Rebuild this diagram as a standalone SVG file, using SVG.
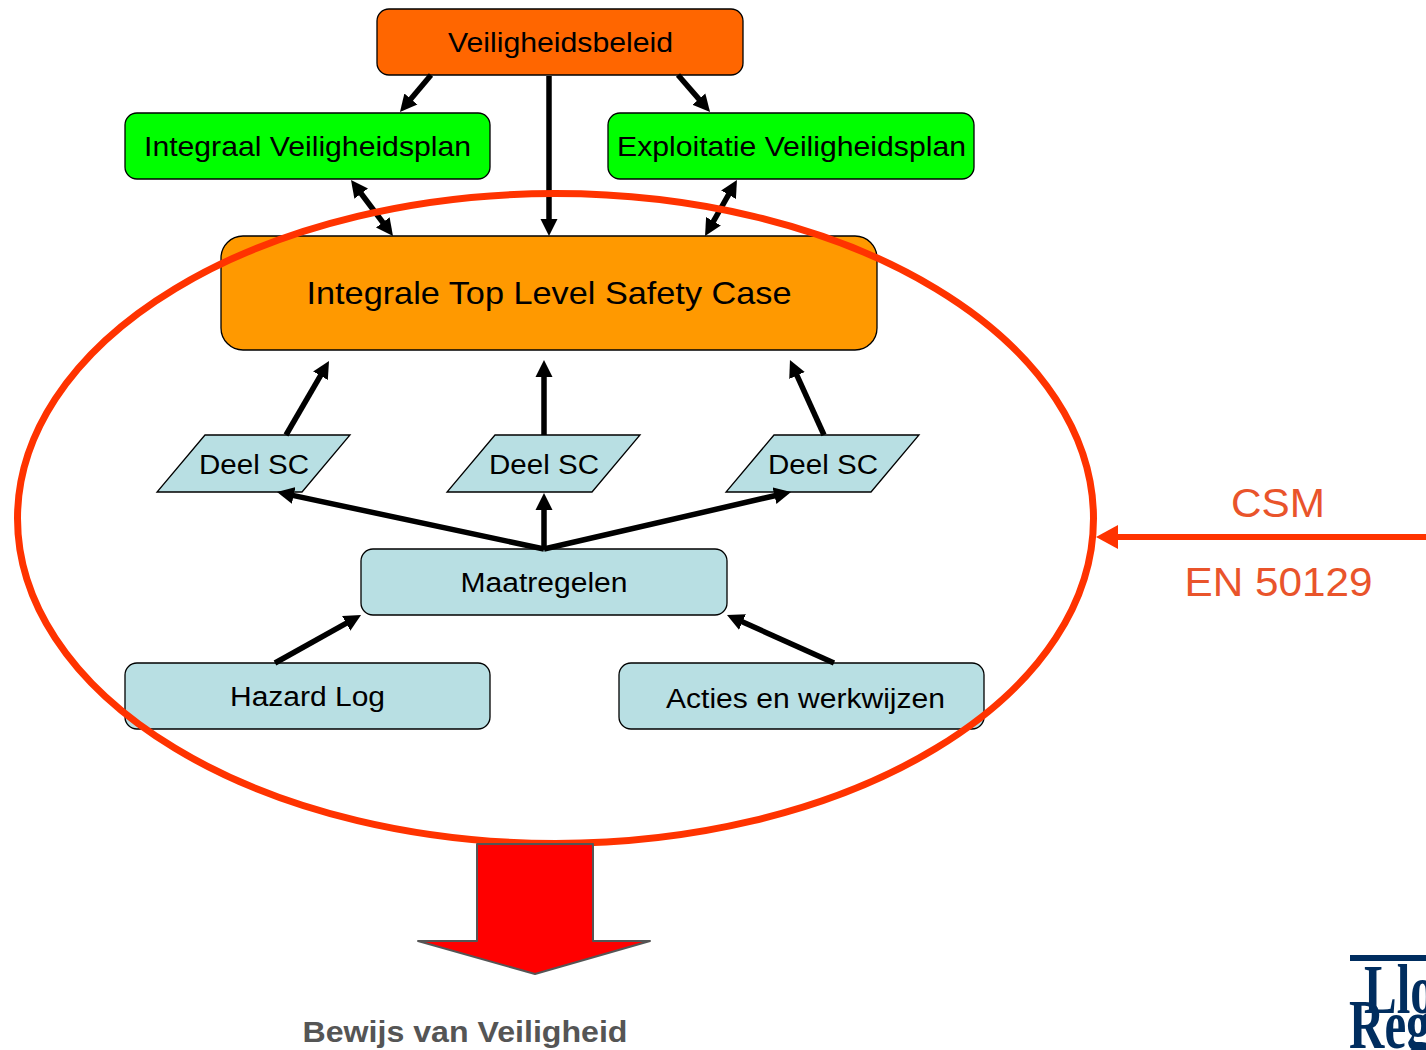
<svg xmlns="http://www.w3.org/2000/svg" width="1426" height="1050" viewBox="0 0 1426 1050">
<defs>
<marker id="ah" markerUnits="userSpaceOnUse" markerWidth="17" markerHeight="18" refX="7" refY="9" orient="auto-start-reverse" viewBox="0 0 17 18"><path d="M0 0.500L17 9L0 17.500Z" fill="#000"/></marker>
<marker id="ahr" markerUnits="userSpaceOnUse" markerWidth="22" markerHeight="24" refX="8" refY="12" orient="auto" viewBox="0 0 22 24"><path d="M0 0L22 12L0 24Z" fill="#ff3300"/></marker>
</defs>
<style>
text{font-family:"Liberation Sans",Arial,sans-serif;fill:#000;text-anchor:middle;}
.n{stroke:#000;stroke-width:1.3}
.b{fill:#b8dfe3}
.g{fill:#00ff00}
.t{font-size:27.5px}
.s{font-size:27px}
.c{stroke:#000;stroke-width:5.500;fill:none;marker-end:url(#ah)}
.d{marker-start:url(#ah)}
.lb{font-size:41px;fill:#e9542b}
.logo{font-family:"Liberation Serif",serif;font-weight:bold;fill:#002d5f;text-anchor:start;font-size:70px}
</style>
<rect width="1426" height="1050" fill="#fff"/>
<g id="top"><rect class="n" x="377" y="9" width="366" height="66" rx="12" fill="#ff6600"/><text class="t" x="560.500" y="52" textLength="225" lengthAdjust="spacingAndGlyphs">Veiligheidsbeleid</text></g>
<g id="ivp"><rect class="n g" x="125" y="113" width="365" height="66" rx="12"/><text class="t" x="307.500" y="156" textLength="327" lengthAdjust="spacingAndGlyphs">Integraal Veiligheidsplan</text></g>
<g id="evp"><rect class="n g" x="608" y="113" width="366" height="66" rx="12"/><text class="t" x="791.500" y="156" textLength="349" lengthAdjust="spacingAndGlyphs">Exploitatie Veiligheidsplan</text></g>
<g id="tlsc"><rect class="n" x="221" y="236" width="656" height="114" rx="22" fill="#ff9900"/><text x="549" y="304" font-size="31.500" textLength="485" lengthAdjust="spacingAndGlyphs">Integrale Top Level Safety Case</text></g>
<g id="sc1"><path class="n b" d="M205 435H350L302 492H157Z"/><text class="s" x="254" y="474" textLength="110" lengthAdjust="spacingAndGlyphs">Deel SC</text></g>
<g id="sc2"><path class="n b" d="M495 435H640L592 492H447Z"/><text class="s" x="544" y="474" textLength="110" lengthAdjust="spacingAndGlyphs">Deel SC</text></g>
<g id="sc3"><path class="n b" d="M774 435H919L871 492H726Z"/><text class="s" x="823" y="474" textLength="110" lengthAdjust="spacingAndGlyphs">Deel SC</text></g>
<g id="maat"><rect class="n b" x="361" y="549" width="366" height="66" rx="12"/><text class="s" x="544" y="592" textLength="167" lengthAdjust="spacingAndGlyphs">Maatregelen</text></g>
<g id="hazard"><rect class="n b" x="125" y="663" width="365" height="66" rx="12"/><text class="s" x="307.500" y="706" textLength="155" lengthAdjust="spacingAndGlyphs">Hazard Log</text></g>
<g id="acties"><rect class="n b" x="619" y="663" width="365" height="66" rx="12"/><text class="s" x="805.500" y="708" textLength="279" lengthAdjust="spacingAndGlyphs">Acties en werkwijzen</text></g>
<g id="connectors">
<line class="c" x1="431" y1="75" x2="406.400" y2="104.300"/>
<line class="c" x1="549" y1="76" x2="549" y2="226"/>
<line class="c" x1="678" y1="75" x2="703.500" y2="104.400"/>
<line class="c d" x1="357" y1="188" x2="387" y2="228"/>
<line class="c d" x1="732" y1="188.700" x2="710" y2="227.300"/>
<line class="c" x1="286" y1="435" x2="324" y2="369.600"/>
<line class="c" x1="544" y1="435" x2="544" y2="370"/>
<line class="c" x1="824" y1="435" x2="794.100" y2="369.100"/>
<line class="c" x1="544" y1="549" x2="286.800" y2="494.100"/>
<line class="c" x1="544" y1="549" x2="544" y2="503"/>
<line class="c" x1="544" y1="549" x2="781.300" y2="494.200"/>
<line class="c" x1="275" y1="663" x2="352.300" y2="619.900"/>
<line class="c" x1="834" y1="663" x2="736.100" y2="619.100"/>
</g>
<g id="scope">
<ellipse cx="555.500" cy="518.500" rx="538" ry="325" fill="none" stroke="#ff3300" stroke-width="7"/>
<line x1="1426" y1="537" x2="1110" y2="537" stroke="#ff3300" stroke-width="6" marker-end="url(#ahr)"/>
<text class="lb" x="1278" y="517" textLength="94" lengthAdjust="spacingAndGlyphs">CSM</text>
<text class="lb" x="1278.500" y="596" textLength="188" lengthAdjust="spacingAndGlyphs">EN 50129</text>
</g>
<g id="result">
<path d="M477 844H593V941H650L535 974L418 941H477Z" fill="#ff0000" stroke="#555" stroke-width="2" stroke-linejoin="round"/>
<text x="465" y="1042" font-size="30" font-weight="bold" style="fill:#555" textLength="325" lengthAdjust="spacingAndGlyphs">Bewijs van Veiligheid</text>
</g>
<g id="logo">
<rect x="1350" y="955" width="76" height="6" fill="#002d5f"/>
<text class="logo" transform="translate(1364 1013) scale(.7 1)">Llo</text>
<text class="logo" transform="translate(1349 1048) scale(.7 1)">Reg</text>
</g>
</svg>
